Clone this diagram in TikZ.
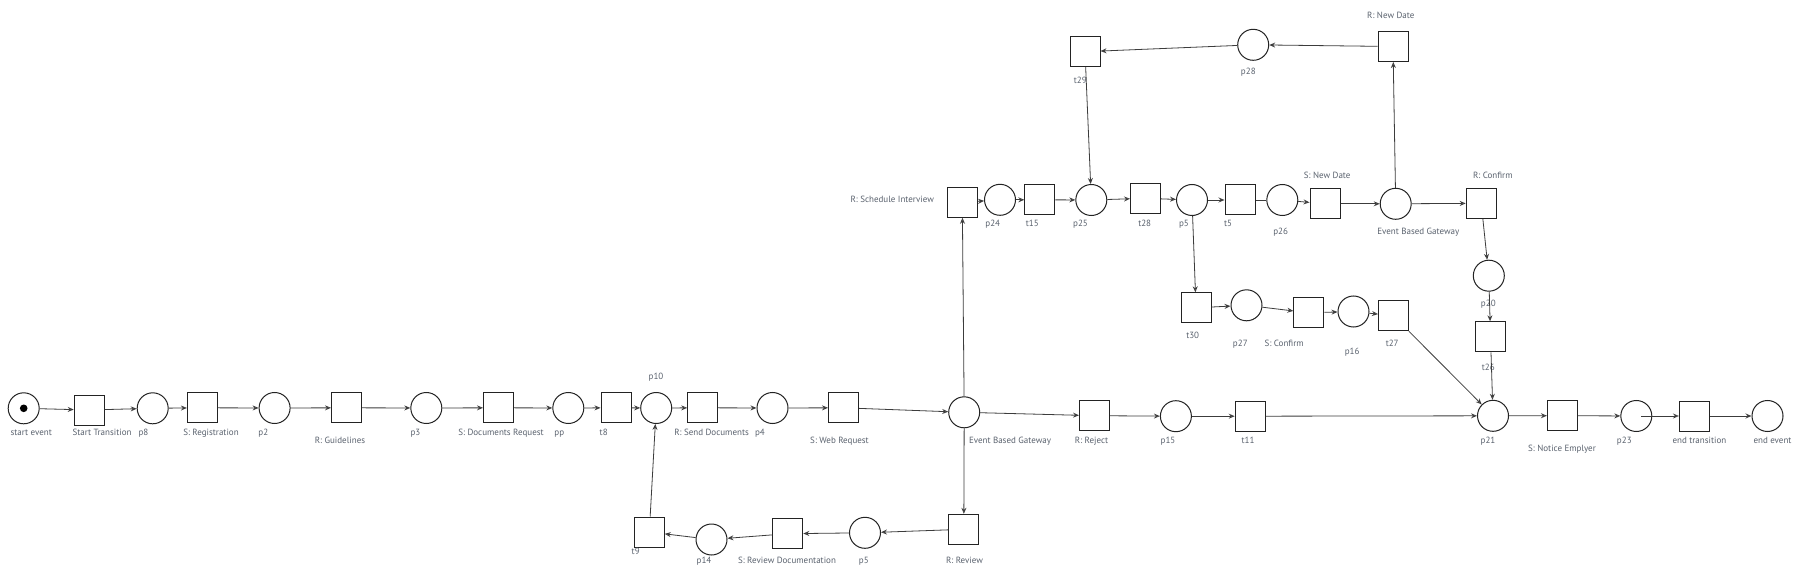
\documentclass[tikz,border=0pt]{standalone}
\usepackage{fontspec}
\setmainfont{PT Sans}
\usetikzlibrary{arrows.meta}
\definecolor{labc}{RGB}{90,98,110}
\definecolor{edgec}{RGB}{60,60,60}
\definecolor{shapec}{RGB}{35,35,35}
\begin{document}
\begin{tikzpicture}[x=1pt,y=-1pt,
  place/.style={circle,draw=shapec,line width=1pt,minimum size=31pt,inner sep=0pt},
  trans/.style={rectangle,draw=shapec,line width=1pt,minimum size=30pt,inner sep=0pt},
  lbl/.style={text=labc,font=\fontsize{9}{10}\selectfont,inner sep=0pt,anchor=base,yshift=-3pt},
  arc/.style={draw=edgec,line width=0.8pt,-{Stealth[open,length=6pt,width=5pt,inset=2pt]}},
  plainarc/.style={draw=edgec,line width=0.8pt}]
\useasboundingbox[fill=white] (0,0) rectangle (1801,577);

% main row
\node[place] (start) at (23.7,408.3) {};
\node[circle,fill=black,minimum size=7.6pt,inner sep=0pt] (tok) at (start.center) {};
\node[trans] (startT) at (89.2,410) {};
\node[place] (p8) at (152.7,408.3) {};
\node[trans] (sreg) at (202.4,407.8) {};
\node[place] (p2) at (274.6,408) {};
\node[trans] (rguid) at (346.5,407.8) {};
\node[place] (p3) at (426.3,408) {};
\node[trans] (sdoc) at (498.5,407.8) {};
\node[place] (pp) at (568.3,408) {};
\node[trans] (t8) at (616,407.8) {};
\node[place] (p10) at (656.2,408) {};
\node[trans] (rsend) at (702.7,407.8) {};
\node[place] (p4) at (772.5,408) {};
\node[trans] (sweb) at (843.5,407.8) {};
\node[place] (ebg1) at (964.2,412.3) {};
\node[trans] (rrej) at (1094.5,415.7) {};
\node[place] (p15) at (1175.9,416.2) {};
\node[trans] (t11) at (1250.2,416.2) {};
\node[place] (p21) at (1493,415.8) {};
\node[trans] (snot) at (1562.4,415.7) {};
\node[place] (p23) at (1636.3,416) {};
\node[trans] (endT) at (1694.4,416) {};
\node[place] (endE) at (1767.5,416) {};

% lower row
\node[trans] (t9) at (649.3,532) {};
\node[place] (p14) at (711.5,539.5) {};
\node[trans] (srev) at (787.8,533.7) {};
\node[place] (p5a) at (865,532.8) {};
\node[trans] (rrev) at (963.8,529.3) {};

% upper row
\node[trans] (rsched) at (962.3,202.3) {};
\node[place] (p24) at (1000,199.8) {};
\node[trans] (t15) at (1039.8,199.8) {};
\node[place] (p25) at (1091.3,200) {};
\node[trans] (t28) at (1145.5,198.3) {};
\node[place] (p5b) at (1192,200) {};
\node[trans] (t5) at (1240,200) {};
\node[place] (p26) at (1282.3,200) {};
\node[trans] (snew) at (1325,203.8) {};
\node[place] (ebg2) at (1395.7,203.8) {};
\node[trans] (rconf) at (1481.2,203.3) {};

% top row
\node[trans] (t29) at (1085,51.7) {};
\node[place] (p28) at (1253.2,44.8) {};
\node[trans] (rnew) at (1393,46.5) {};

% middle row
\node[trans] (t30) at (1196,307.8) {};
\node[place] (p27) at (1246.5,305.3) {};
\node[trans] (sconf) at (1308.8,312.8) {};
\node[place] (p16) at (1353.5,311.5) {};
\node[trans] (t27) at (1393.5,315.8) {};
\node[place] (p20) at (1488.8,275.7) {};
\node[trans] (t26) at (1490.5,336.8) {};

% labels
\node[lbl] (l1) at (31.2,432) {start event};
\node[lbl] (l2) at (102,432) {Start Transition};
\node[lbl] (l3) at (143.5,432) {p8};
\node[lbl] (l4) at (211,432) {S: Registration};
\node[lbl] (l5) at (263.3,432) {p2};
\node[lbl] (l6) at (340,440) {R: Guidelines};
\node[lbl] (l7) at (415.4,432) {p3};
\node[lbl] (l8) at (501,432) {S: Documents Request};
\node[lbl] (l9) at (559.3,432) {pp};
\node[lbl] (l10) at (603.7,432) {t8};
\node[lbl] (l11) at (656,376) {p10};
\node[lbl] (l12) at (711.6,432) {R: Send Documents};
\node[lbl] (l13) at (760,432) {p4};
\node[lbl] (l14) at (839.5,440) {S: Web Request};
\node[lbl] (l15) at (1010,440) {Event Based Gateway};
\node[lbl] (l16) at (1091.5,440) {R: Reject};
\node[lbl] (l17) at (1168,440) {p15};
\node[lbl] (l18) at (1248,440) {t11};
\node[lbl] (l19) at (1488,440) {p21};
\node[lbl] (l20) at (1562,448.3) {S: Notice Emplyer};
\node[lbl] (l21) at (1624.3,440) {p23};
\node[lbl] (l22) at (1699.4,440) {end transition};
\node[lbl] (l23) at (1772.5,440) {end event};
\node[lbl] (l24) at (635.7,551.7) {t9};
\node[lbl] (l25) at (704,560) {p14};
\node[lbl] (l26) at (787,560) {S: Review Documentation};
\node[lbl] (l27) at (863.8,560) {p5};
\node[lbl] (l28) at (964.5,560) {R: Review};
\node[lbl] (l29) at (892.2,200) {R: Schedule Interview};
\node[lbl] (l30) at (992.8,224) {p24};
\node[lbl] (l31) at (1032.3,224) {t15};
\node[lbl] (l32) at (1080.5,224) {p25};
\node[lbl] (l33) at (1144.7,224) {t28};
\node[lbl] (l34) at (1184,224) {p5};
\node[lbl] (l35) at (1228,224) {t5};
\node[lbl] (l36) at (1280.7,232) {p26};
\node[lbl] (l37) at (1327.2,175.7) {S: New Date};
\node[lbl] (l38) at (1418.3,231.7) {Event Based Gateway};
\node[lbl] (l39) at (1492.8,175.7) {R: Confirm};
\node[lbl] (l40) at (1080.3,80.7) {t29};
\node[lbl] (l41) at (1248.3,71.7) {p28};
\node[lbl] (l42) at (1390.8,15.7) {R: New Date};
\node[lbl] (l43) at (1192.7,335.7) {t30};
\node[lbl] (l44) at (1240.3,343.7) {p27};
\node[lbl] (l45) at (1284.2,343.7) {S: Confirm};
\node[lbl] (l46) at (1352.2,351.7) {p16};
\node[lbl] (l47) at (1392.2,343.7) {t27};
\node[lbl] (l48) at (1488.3,303.7) {p20};
\node[lbl] (l49) at (1488.3,367.7) {t26};

% connectors main row
\draw[arc] (start) -- (startT);
\draw[arc] (startT) -- (p8);
\draw[arc] (p8) -- (sreg);
\draw[arc] (sreg) -- (p2);
\draw[arc] (p2) -- (rguid);
\draw[arc] (rguid) -- (p3);
\draw[arc] (p3) -- (sdoc);
\draw[arc] (sdoc) -- (pp);
\draw[arc] (pp) -- (t8);
\draw[arc] (t8) -- (p10);
\draw[arc] (p10) -- (rsend);
\draw[arc] (rsend) -- (p4);
\draw[arc] (p4) -- (sweb);
\draw[arc] (sweb) -- (ebg1);
\draw[arc] (ebg1) -- (rrej);
\draw[arc] (rrej) -- (p15);
\draw[arc] (p15) -- (t11);
\draw[arc] (t11) -- (p21);
\draw[arc] (p21) -- (snot);
\draw[arc] (snot) -- (p23);
\draw[arc] ([xshift=5pt]p23.center) -- (endT);
\draw[arc] (endT) -- (endE);

% lower loop
\draw[arc] (ebg1) -- (rrev);
\draw[arc] (rrev) -- (p5a);
\draw[arc] (p5a) -- (srev);
\draw[arc] (srev) -- (p14);
\draw[arc] (p14) -- (t9);
\draw[arc] (t9) -- (p10);

% upper part
\draw[arc] (ebg1) -- (rsched);
\draw[arc] (rsched) -- (p24);
\draw[arc] (p24) -- (t15);
\draw[arc] (t15) -- (p25);
\draw[arc] (p25) -- (t28);
\draw[arc] (t28) -- (p5b);
\draw[arc] (p5b) -- (t5);
\draw[plainarc] (t5) -- (p26);
\draw[arc] (p26) -- (snew);
\draw[arc] (snew) -- (ebg2);
\draw[arc] (ebg2) -- (rconf);
\draw[arc] (ebg2) -- (rnew);
\draw[arc] (rnew) -- (p28);
\draw[arc] (p28) -- (t29);
\draw[arc] (t29) -- (p25);
\draw[arc] (p5b) -- (t30);
\draw[arc] (t30) -- (p27);
\draw[arc] (p27) -- (sconf);
\draw[arc] (sconf) -- (p16);
\draw[arc] (p16) -- (t27);
\draw[arc] (t27) -- (p21);
\draw[arc] (rconf) -- (p20);
\draw[arc] (p20) -- (t26);
\draw[arc] (t26) -- (p21);
\end{tikzpicture}
\end{document}
